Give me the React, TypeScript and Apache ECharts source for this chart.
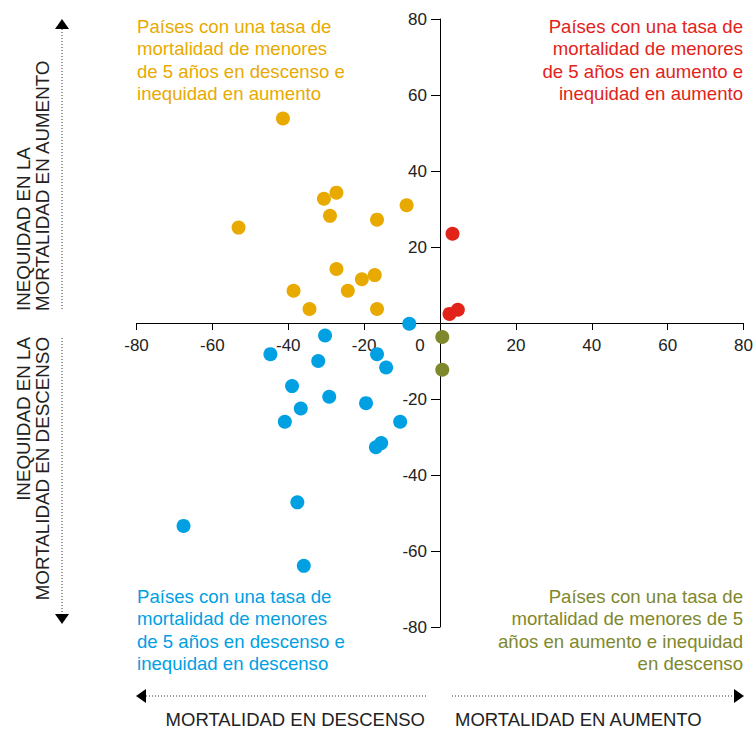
import React, { useEffect, useRef } from "react";
import * as echarts from "echarts";

// Mortality change (x) vs inequity change (y)
const fallingMortalityRisingInequity: [number, number][] = [
  [-41.4, 53.8], [-53.1, 25.1], [-30.6, 32.7], [-27.3, 34.3], [-29.0, 28.2],
  [-16.6, 27.2], [-8.8, 31.0], [-27.3, 14.2], [-20.6, 11.5], [-17.2, 12.6],
  [-38.6, 8.5], [-24.3, 8.5], [-34.4, 3.7], [-16.6, 3.7],
];
const risingMortalityRisingInequity: [number, number][] = [
  [3.3, 23.5], [2.5, 2.4], [4.7, 3.5],
];
const risingMortalityFallingInequity: [number, number][] = [
  [0.6, -3.7], [0.6, -12.3],
];
const fallingMortalityFallingInequity: [number, number][] = [
  [-8.1, -0.2], [-30.3, -3.3], [-44.7, -8.2], [-32.1, -10.0], [-16.6, -8.2],
  [-14.2, -11.7], [-39.0, -16.6], [-29.2, -19.4], [-36.7, -22.5], [-40.9, -26.0],
  [-19.5, -21.1], [-10.5, -26.0], [-15.5, -31.6], [-16.9, -32.7], [-37.6, -47.2],
  [-67.6, -53.4], [-35.9, -63.9],
];

const axisMin = -80;
const axisMax = 80;
const axisStep = 20;

const quadrantTextTL = "Países con una tasa de\nmortalidad de menores\nde 5 años en descenso e\ninequidad en aumento";
const quadrantTextTR = "Países con una tasa de\nmortalidad de menores\nde 5 años en aumento e\ninequidad en aumento";
const quadrantTextBL = "Países con una tasa de\nmortalidad de menores\nde 5 años en descenso e\ninequidad en descenso";
const quadrantTextBR = "Países con una tasa de\nmortalidad de menores de 5\naños en aumento e inequidad\nen descenso";
const yLabelUp = "INEQUIDAD EN LA\nMORTALIDAD EN AUMENTO";
const yLabelDown = "INEQUIDAD EN LA\nMORTALIDAD EN DESCENSO";
const xLabelDown = "MORTALIDAD EN DESCENSO";
const xLabelUp = "MORTALIDAD EN AUMENTO";

const YELLOW = "#E8AA00";
const RED = "#E2231A";
const BLUE = "#00A0E3";
const OLIVE = "#7F882C";
const FONT = "'Liberation Sans', Arial, sans-serif";
const INK = "#222";

const GRID_W = 607;
const GRID_H = 608;

export default function App() {
  const ref = useRef<HTMLDivElement>(null);
  useEffect(() => {
    if (!ref.current) return;
    const chart = echarts.init(ref.current, null, { renderer: "svg" });
    const qText = (text: string, x: number, y: number, align: string, color: string) => ({
      type: "text",
      x,
      y,
      style: {
        text,
        fill: color,
        fontSize: 18.6,
        fontFamily: FONT,
        align,
        verticalAlign: "top",
        lineHeight: 22.5,
      },
    });
    const dotted = (x1: number, y1: number, x2: number, y2: number) => ({
      type: "line",
      shape: { x1, y1, x2, y2 },
      style: { stroke: "#333", lineWidth: 1, lineDash: [1, 2] },
    });
    const tri = (pts: number[][]) => ({
      type: "polygon",
      shape: { points: pts },
      style: { fill: "#000" },
    });
    const option: any = {
      animation: false,
      grid: { left: 136.5, top: 19, width: GRID_W, height: GRID_H, containLabel: false },
      xAxis: {
        type: "value",
        min: axisMin,
        max: axisMax,
        interval: axisStep,
        position: "bottom",
        offset: -GRID_H / 2,
        splitLine: { show: false },
        axisLine: { onZero: false, lineStyle: { color: "#000", width: 1 } },
        axisTick: { show: true, length: 7, lineStyle: { color: "#000" } },
        axisLabel: {
          color: INK,
          fontSize: 17,
          fontFamily: FONT,
          margin: 14,
          formatter: (v: number) => (v === 0 ? "{z|0}" : String(v)),
          rich: { z: { fontSize: 17, fontFamily: FONT, color: INK, padding: [0, 40, 0, 0] } },
        },
      },
      yAxis: {
        type: "value",
        min: axisMin,
        max: axisMax,
        interval: axisStep,
        position: "left",
        offset: -GRID_W / 2,
        splitLine: { show: false },
        axisLine: { onZero: false, lineStyle: { color: "#000", width: 1 } },
        axisTick: { show: true, length: 9, lineStyle: { color: "#000" } },
        axisLabel: {
          color: INK,
          fontSize: 17,
          fontFamily: FONT,
          margin: 13,
          formatter: (v: number) => (v === 0 ? "" : String(v)),
        },
      },
      series: [
        { type: "scatter", data: fallingMortalityRisingInequity, symbolSize: 14, itemStyle: { color: YELLOW, opacity: 1 } },
        { type: "scatter", data: risingMortalityRisingInequity, symbolSize: 14, itemStyle: { color: RED, opacity: 1 } },
        { type: "scatter", data: risingMortalityFallingInequity, symbolSize: 14, itemStyle: { color: OLIVE, opacity: 1 } },
        { type: "scatter", data: fallingMortalityFallingInequity, symbolSize: 14, itemStyle: { color: BLUE, opacity: 1 } },
      ],
      graphic: [
        qText(quadrantTextTL, 137, 15, "left", YELLOW),
        qText(quadrantTextTR, 743, 15, "right", RED),
        qText(quadrantTextBL, 137, 585, "left", BLUE),
        qText(quadrantTextBR, 743, 585, "right", OLIVE),
        {
          type: "text",
          x: 14,
          y: 311,
          rotation: Math.PI / 2,
          style: { text: yLabelUp, fill: INK, fontSize: 18.8, fontFamily: FONT, align: "left", verticalAlign: "top", lineHeight: 19 },
        },
        {
          type: "text",
          x: 14,
          y: 337,
          rotation: Math.PI / 2,
          style: { text: yLabelDown, fill: INK, fontSize: 18.8, fontFamily: FONT, align: "right", verticalAlign: "top", lineHeight: 19 },
        },
        dotted(62, 29, 62, 311),
        dotted(62, 338, 62, 614),
        tri([[55, 29], [69, 29], [62, 19]]),
        tri([[55, 614], [69, 614], [62, 624]]),
        dotted(146, 696, 428, 696),
        dotted(452, 696, 734, 696),
        tri([[146, 689], [146, 703], [136, 696]]),
        tri([[734, 689], [734, 703], [744, 696]]),
        {
          type: "text",
          x: 425,
          y: 719,
          style: { text: xLabelDown, fill: INK, fontSize: 18.5, fontFamily: FONT, align: "right", verticalAlign: "middle" },
        },
        {
          type: "text",
          x: 455,
          y: 719,
          style: { text: xLabelUp, fill: INK, fontSize: 18.5, fontFamily: FONT, align: "left", verticalAlign: "middle" },
        },
      ],
    };
    chart.setOption(option);
    return () => chart.dispose();
  }, []);
  return (
    <div
      ref={ref}
      style={{ position: "absolute", left: 0, top: 0, width: 756, height: 730, background: "#fff" }}
    />
  );
}
